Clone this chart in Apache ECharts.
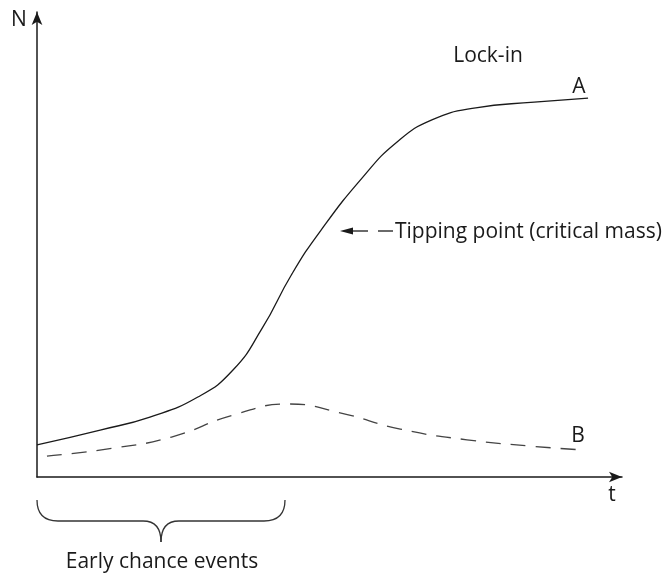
<!DOCTYPE html>
<html>
<head>
<meta charset="utf-8">
<script src="https://cdn.jsdelivr.net/npm/echarts@6/dist/echarts.min.js"></script>
<style>
html,body{margin:0;padding:0;background:#fff;}
#main{width:669px;height:576px;}
</style>
</head>
<body>
<div id="main"></div>
<script>
// Curve A (solid): [t, N]
const curveA = [
  [0, 6.9], [10.8, 10.1], [19.3, 12.9], [27.5, 17.2], [33.5, 23.0],
  [38.5, 32.0], [43.5, 43.5], [48.5, 53.0], [55.7, 64.5], [61.5, 72.0],
  [67.5, 76.8], [75.0, 79.4], [85.0, 80.6], [94.2, 81.5]
];
// Curve B (dashed): [t, N]
const curveB = [
  [1.7, 4.5], [13.0, 6.2], [23.0, 8.6], [33.5, 13.3], [43.2, 15.7],
  [51.8, 13.8], [62.1, 10.3], [73.5, 8.0], [84.8, 6.6], [93.5, 5.8]
];
const labels = {
  yName: 'N', xName: 't', lockIn: 'Lock-in', a: 'A', b: 'B',
  tipping: 'Tipping point (critical mass)', early: 'Early chance events'
};

const font = '"Open Sans", "Noto Sans", sans-serif';
const ink = '#1a1a1a';
const FS = 21;
const chart = echarts.init(document.getElementById('main'), null, {renderer: 'canvas'});

function txt(text, x, y, align, size) {
  return {
    type: 'text', x: x, y: y,
    style: {text: text, fill: ink, font: (size || FS) + 'px ' + font,
            align: align || 'center', verticalAlign: 'middle'}
  };
}
const braceStyle = {stroke: '#333', lineWidth: 1.3, fill: null};
function seg(x1, y1, x2, y2, style) {
  return {type: 'line', shape: {x1: x1, y1: y1, x2: x2, y2: y2}, style: style};
}
function quad(x1, y1, cx, cy, x2, y2) {
  return {type: 'bezierCurve', shape: {x1: x1, y1: y1, cpx1: cx, cpy1: cy, x2: x2, y2: y2}, style: braceStyle};
}

chart.setOption({
  animation: false,
  backgroundColor: '#fff',
  grid: {left: 37, right: 47, top: 12, bottom: 99, containLabel: false},
  xAxis: {
    type: 'value', min: 0, max: 100,
    axisLine: {show: true, symbol: ['none', 'arrow'], symbolSize: [8, 13],
               lineStyle: {color: ink, width: 1.5}},
    axisTick: {show: false}, axisLabel: {show: false}, splitLine: {show: false}
  },
  yAxis: {
    type: 'value', min: 0, max: 100,
    axisLine: {show: true, symbol: ['none', 'arrow'], symbolSize: [8, 13],
               lineStyle: {color: ink, width: 1.5}},
    axisTick: {show: false}, axisLabel: {show: false}, splitLine: {show: false}
  },
  series: [
    {
      name: 'A', type: 'line', data: curveA, smooth: 0.5, showSymbol: false,
      lineStyle: {color: ink, width: 1.3}
    },
    {
      name: 'B', type: 'line', data: curveB, smooth: 0.5, showSymbol: false,
      lineStyle: {color: '#444', width: 1.3, type: [15, 10]}
    }
  ],
  graphic: [
    txt(labels.yName, 19, 20),
    txt(labels.xName, 612, 495),
    txt(labels.lockIn, 488, 56),
    txt(labels.a, 579, 87),
    txt(labels.b, 578, 436),
    txt(labels.tipping, 395, 232, 'left'),
    txt(labels.early, 162, 562, 'center'),
    // tipping point arrow
    seg(350, 231, 368, 231, {stroke: ink, lineWidth: 1.3}),
    {type: 'polygon', shape: {points: [[340, 231], [353, 227.5], [353, 234.5]]}, style: {fill: ink}},
    seg(378, 231, 393, 231, {stroke: ink, lineWidth: 1.3}),
    // brace
    quad(37, 500, 37, 521, 58, 521),
    seg(58, 521, 143, 521, braceStyle),
    quad(143, 521, 161, 521, 161, 542),
    quad(161, 542, 161, 521, 179, 521),
    seg(179, 521, 264, 521, braceStyle),
    quad(264, 521, 285, 521, 285, 500)
  ]
});
</script>
</body>
</html>
